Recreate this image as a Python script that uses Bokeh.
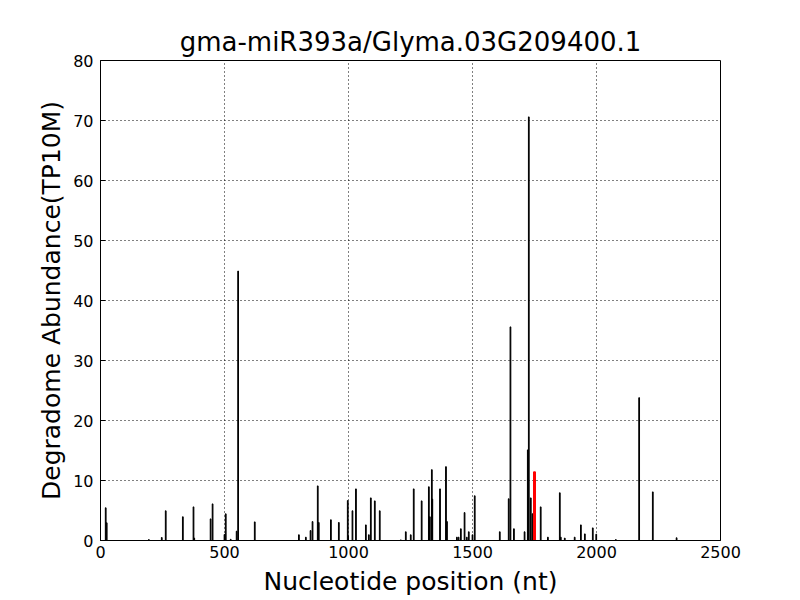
from bokeh.plotting import figure
from bokeh.models import Range1d, FixedTicker
from bokeh.embed import file_html
from bokeh.resources import INLINE

title_text = "gma-miR393a/Glyma.03G209400.1"
x_label = "Nucleotide position (nt)"
y_label = "Degradome Abundance(TP10M)"

positions = [21, 25, 195, 247, 263, 332, 375, 378, 444, 452, 500, 505, 525, 549, 555, 622,
             800, 828, 847, 855, 876, 880, 929, 961, 997, 1016, 1030, 1070, 1082, 1090, 1106, 1126,
             1211, 1231, 1251, 1263, 1295, 1324, 1328, 1336, 1338, 1369, 1393, 1397, 1437, 1444,
             1453, 1468, 1477, 1485, 1500, 1509, 1610, 1646, 1653, 1667, 1710, 1723, 1727, 1735,
             1742, 1775, 1804, 1852, 1856, 1872, 1912, 1937, 1953, 1985, 1999, 2078, 2172, 2227, 2323]
abundance = [5.45, 2.95, 0.15, 0.5, 4.95, 3.95, 5.6, 0.4, 3.6, 6.1, 1.0, 4.45, 0.2, 1.55, 44.9, 3.1,
             0.95, 0.55, 1.65, 3.15, 9.1, 3.0, 3.45, 3.0, 6.65, 4.95, 8.6, 2.6, 0.95, 7.1, 6.6, 4.95,
             0.1, 1.45, 0.95, 8.6, 6.6, 8.95, 3.95, 11.8, 6.9, 8.6, 12.3, 3.15, 0.55, 0.55,
             1.95, 4.65, 0.55, 1.45, 0.95, 7.45, 1.45, 6.95, 35.6, 1.95, 1.45, 15.1, 70.6, 7.1,
             4.45, 5.6, 0.55, 7.95, 0.55, 0.4, 0.55, 2.6, 1.1, 2.1, 1.05, 0.15, 23.8, 8.1, 0.45]

target_pos = [1750]
target_abund = [11.4]

x_ticks = [0, 500, 1000, 1500, 2000, 2500]
y_ticks = [0, 10, 20, 30, 40, 50, 60, 70, 80]

p = figure(frame_width=620, frame_height=480, output_backend="svg", toolbar_location=None,
           x_range=Range1d(0, 2500), y_range=Range1d(0, 80),
           min_border_left=100, min_border_right=72, min_border_top=60, min_border_bottom=40,
           title=title_text)

p.title.align = "center"
p.title.text_font = "DejaVu Sans"
p.title.text_font_size = "26px"
p.title.text_font_style = "normal"
p.title.text_color = "black"
p.title.standoff = 7

p.outline_line_color = "black"
p.outline_line_width = 1
p.outline_line_alpha = 1

for ax in (p.xaxis[0], p.yaxis[0]):
    ax.major_tick_in = 5
    ax.major_tick_out = 0
    ax.minor_tick_line_color = None
    ax.axis_line_color = "black"
    ax.major_tick_line_color = "black"
    ax.major_label_text_font = "DejaVu Sans"
    ax.major_label_text_font_size = "16px"
    ax.major_label_text_color = "black"
    ax.axis_label_text_font = "DejaVu Sans"
    ax.axis_label_text_font_size = "25px"
    ax.axis_label_text_font_style = "normal"
    ax.axis_label_text_color = "black"

p.xaxis.ticker = FixedTicker(ticks=x_ticks)
p.yaxis.ticker = FixedTicker(ticks=y_ticks)
p.xaxis.axis_label = x_label
p.yaxis.axis_label = y_label
p.xaxis.major_label_standoff = 5
p.yaxis.major_label_standoff = 7
p.xaxis.axis_label_standoff = 6
p.yaxis.axis_label_standoff = 4

for g in (p.xgrid[0], p.ygrid[0]):
    g.grid_line_color = "black"
    g.grid_line_dash = "1 3"
    g.grid_line_width = 1
    g.grid_line_alpha = 1

p.vbar(x=positions, top=abundance, width=3, bottom=0,
       fill_color="black", line_color="black", line_width=1)
p.vbar(x=target_pos, top=target_abund, width=6, bottom=0,
       fill_color="red", line_color="red", line_width=1.5)

open("out.html", "w").write(file_html(p, INLINE))
